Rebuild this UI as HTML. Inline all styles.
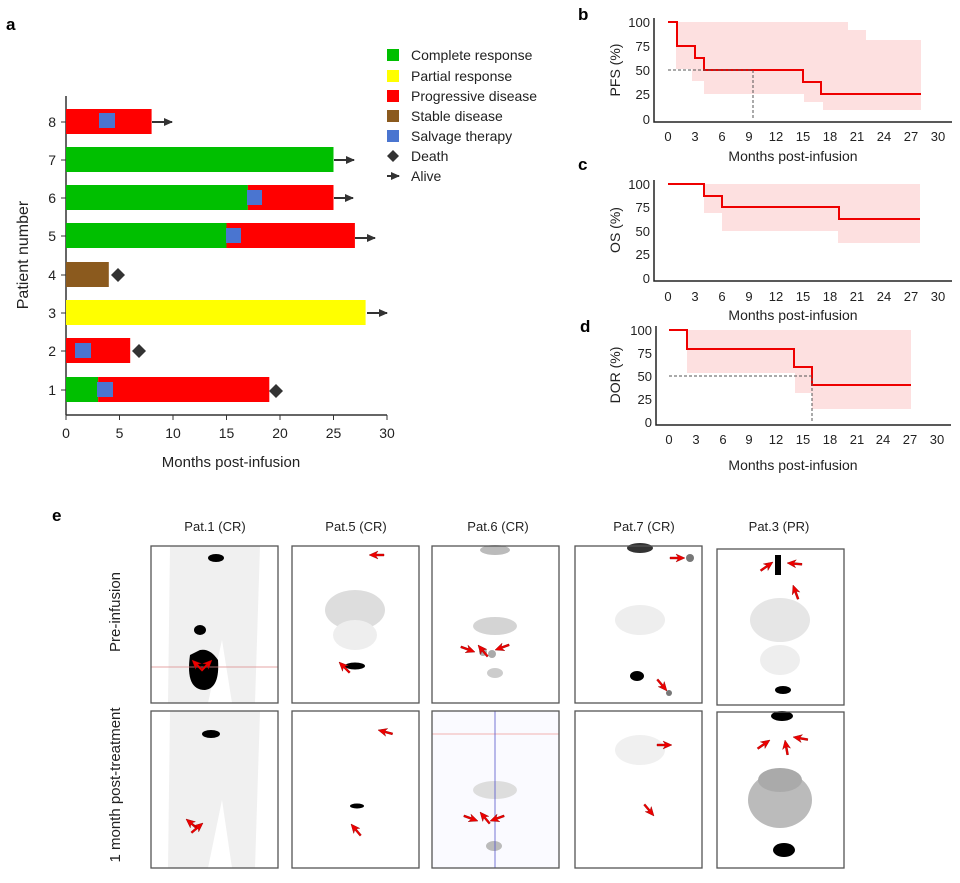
<!DOCTYPE html>
<html><head><meta charset="utf-8"><style>
body{margin:0;background:#fff}
svg{display:block;font-family:"Liberation Sans",Arial,sans-serif}
</style></head><body>
<svg width="960" height="883" viewBox="0 0 960 883" xmlns="http://www.w3.org/2000/svg">
<defs>
<marker id="ar" markerUnits="userSpaceOnUse" markerWidth="9" markerHeight="8" refX="8" refY="4" orient="auto"><path d="M0,0 L9,4 L0,8 z" fill="#333"/></marker>
<g id="rarrow"><path d="M0,0 L-9,-4 L-7,-1 L-15,-1 L-15,1 L-7,1 L-9,4 z" fill="#e00" stroke="#900" stroke-width="0.4"/></g>
</defs>
<!-- Panel a -->
<text x="6" y="30" font-size="17" font-weight="bold">a</text>
<g stroke="#333" stroke-width="1.5" fill="none">
<line x1="66" y1="96" x2="66" y2="415"/><line x1="66" y1="415" x2="387" y2="415"/>
</g>
<g stroke="#333" stroke-width="1">
<line x1="66" y1="415" x2="66" y2="420"/><line x1="119.5" y1="415" x2="119.5" y2="420"/><line x1="173" y1="415" x2="173" y2="420"/><line x1="226.5" y1="415" x2="226.5" y2="420"/><line x1="280" y1="415" x2="280" y2="420"/><line x1="333.5" y1="415" x2="333.5" y2="420"/><line x1="387" y1="415" x2="387" y2="420"/>
<line x1="61" y1="122" x2="66" y2="122"/><line x1="61" y1="160" x2="66" y2="160"/><line x1="61" y1="198" x2="66" y2="198"/><line x1="61" y1="236" x2="66" y2="236"/><line x1="61" y1="275" x2="66" y2="275"/><line x1="61" y1="313" x2="66" y2="313"/><line x1="61" y1="351" x2="66" y2="351"/><line x1="61" y1="390" x2="66" y2="390"/>
</g>
<g font-size="14" text-anchor="middle" fill="#222">
<text x="66" y="438">0</text><text x="119.5" y="438">5</text><text x="173" y="438">10</text><text x="226.5" y="438">15</text><text x="280" y="438">20</text><text x="333.5" y="438">25</text><text x="387" y="438">30</text>
</g>
<g font-size="14" text-anchor="end" fill="#222">
<text x="56" y="127">8</text><text x="56" y="165">7</text><text x="56" y="203">6</text><text x="56" y="241">5</text><text x="56" y="280">4</text><text x="56" y="318">3</text><text x="56" y="356">2</text><text x="56" y="395">1</text>
</g>
<text x="231" y="467" font-size="15" text-anchor="middle" fill="#222">Months post-infusion</text>
<text transform="translate(28,255) rotate(-90)" font-size="16" text-anchor="middle" fill="#222">Patient number</text>
<!-- bars -->
<rect x="66" y="109" width="85.6" height="25" fill="#f00"/><rect x="99" y="113" width="16" height="15" fill="#4a75d0"/>
<rect x="66" y="147" width="267.5" height="25" fill="#00bf00"/>
<rect x="66" y="185" width="181.9" height="25" fill="#00bf00"/><rect x="247.9" y="185" width="85.6" height="25" fill="#f00"/><rect x="247" y="190" width="15" height="15" fill="#4a75d0"/>
<rect x="66" y="223" width="160.5" height="25" fill="#00bf00"/><rect x="226.5" y="223" width="128.4" height="25" fill="#f00"/><rect x="226" y="228" width="15" height="15" fill="#4a75d0"/>
<rect x="66" y="262" width="42.8" height="25" fill="#8b5a1e"/>
<rect x="66" y="300" width="299.6" height="25" fill="#ff0"/>
<rect x="66" y="338" width="64.2" height="25" fill="#f00"/><rect x="75" y="343" width="16" height="15" fill="#4a75d0"/>
<rect x="66" y="377" width="32.1" height="25" fill="#00bf00"/><rect x="98.1" y="377" width="171.2" height="25" fill="#f00"/><rect x="97" y="382" width="16" height="15" fill="#4a75d0"/>
<!-- arrows & deaths -->
<g stroke="#333" stroke-width="2" marker-end="url(#ar)">
<line x1="152" y1="122" x2="172" y2="122"/><line x1="334" y1="160" x2="354" y2="160"/><line x1="334" y1="198" x2="353" y2="198"/><line x1="355" y1="238" x2="375" y2="238"/><line x1="367" y1="313" x2="387" y2="313"/>
</g>
<g fill="#333">
<path d="M118,268 l7,7 l-7,7 l-7,-7z"/><path d="M139,344 l7,7 l-7,7 l-7,-7z"/><path d="M276,384 l7,7 l-7,7 l-7,-7z"/>
</g>
<!-- legend -->
<g font-size="14" fill="#222">
<rect x="387" y="49" width="12" height="12" fill="#00bf00"/><text x="411" y="60">Complete response</text>
<rect x="387" y="70" width="12" height="12" fill="#ff0"/><text x="411" y="81">Partial response</text>
<rect x="387" y="90" width="12" height="12" fill="#f00"/><text x="411" y="101">Progressive disease</text>
<rect x="387" y="110" width="12" height="12" fill="#8b5a1e"/><text x="411" y="121">Stable disease</text>
<rect x="387" y="130" width="12" height="12" fill="#4a75d0"/><text x="411" y="141">Salvage therapy</text>
<path d="M393,150 l6,6 l-6,6 l-6,-6z" fill="#333"/><text x="411" y="161">Death</text>
<line x1="387" y1="176" x2="399" y2="176" stroke="#333" stroke-width="2" marker-end="url(#ar)"/><text x="411" y="181">Alive</text>
</g>
<!-- KM panels -->
<g font-size="17" font-weight="bold"><text x="578" y="20">b</text><text x="578" y="170">c</text><text x="580" y="332">d</text></g>
<g>
<path d="M676,22 H848 V30 H866 V40 H921 V110 H823 V102 H804 V94 H704 V81 H692 V69 H676 Z" fill="#fde0e0"/>
<polyline points="668,22 677,22 677,46 695,46 695,58 704,58 704,70 803,70 803,82 821,82 821,94 921,94" fill="none" stroke="#e00" stroke-width="2"/>
<path d="M668,70 H753 V119" fill="none" stroke="#555" stroke-width="1" stroke-dasharray="3,2"/>
<path d="M654,18 V122 H952" fill="none" stroke="#222" stroke-width="1.5"/>
<g font-size="13" text-anchor="end" fill="#222"><text x="650" y="27">100</text><text x="650" y="51">75</text><text x="650" y="75">50</text><text x="650" y="99">25</text><text x="650" y="124">0</text></g>
<g font-size="13" text-anchor="middle" fill="#222"><text x="668" y="141">0</text><text x="695" y="141">3</text><text x="722" y="141">6</text><text x="749" y="141">9</text><text x="776" y="141">12</text><text x="803" y="141">15</text><text x="830" y="141">18</text><text x="857" y="141">21</text><text x="884" y="141">24</text><text x="911" y="141">27</text><text x="938" y="141">30</text></g>
<text x="793" y="161" font-size="14" text-anchor="middle" fill="#222">Months post-infusion</text>
<text transform="translate(620,70) rotate(-90)" font-size="14" text-anchor="middle" fill="#222">PFS (%)</text>
</g>
<g>
<path d="M704,184 H920 V243 H838 V231 H722 V213 H704 Z" fill="#fde0e0"/>
<polyline points="668,184 704,184 704,196 722,196 722,207 839,207 839,219 920,219" fill="none" stroke="#e00" stroke-width="2"/>
<path d="M654,180 V281 H952" fill="none" stroke="#222" stroke-width="1.5"/>
<g font-size="13" text-anchor="end" fill="#222"><text x="650" y="189">100</text><text x="650" y="212">75</text><text x="650" y="236">50</text><text x="650" y="259">25</text><text x="650" y="283">0</text></g>
<g font-size="13" text-anchor="middle" fill="#222"><text x="668" y="301">0</text><text x="695" y="301">3</text><text x="722" y="301">6</text><text x="749" y="301">9</text><text x="776" y="301">12</text><text x="803" y="301">15</text><text x="830" y="301">18</text><text x="857" y="301">21</text><text x="884" y="301">24</text><text x="911" y="301">27</text><text x="938" y="301">30</text></g>
<text x="793" y="320" font-size="14" text-anchor="middle" fill="#222">Months post-infusion</text>
<text transform="translate(620,230) rotate(-90)" font-size="14" text-anchor="middle" fill="#222">OS (%)</text>
</g>
<g>
<path d="M687,330 H911 V409 H812 V393 H795 V373 H687 Z" fill="#fde0e0"/>
<polyline points="669,330 687,330 687,349 794,349 794,367 812,367 812,385 911,385" fill="none" stroke="#e00" stroke-width="2"/>
<path d="M669,376 H812 V423" fill="none" stroke="#555" stroke-width="1" stroke-dasharray="3,2"/>
<path d="M656,326 V425 H951" fill="none" stroke="#222" stroke-width="1.5"/>
<g font-size="13" text-anchor="end" fill="#222"><text x="652" y="335">100</text><text x="652" y="358">75</text><text x="652" y="381">50</text><text x="652" y="404">25</text><text x="652" y="427">0</text></g>
<g font-size="13" text-anchor="middle" fill="#222"><text x="669" y="444">0</text><text x="696" y="444">3</text><text x="723" y="444">6</text><text x="749" y="444">9</text><text x="776" y="444">12</text><text x="803" y="444">15</text><text x="830" y="444">18</text><text x="857" y="444">21</text><text x="883" y="444">24</text><text x="910" y="444">27</text><text x="937" y="444">30</text></g>
<text x="793" y="470" font-size="14" text-anchor="middle" fill="#222">Months post-infusion</text>
<text transform="translate(620,375) rotate(-90)" font-size="14" text-anchor="middle" fill="#222">DOR (%)</text>
</g>
<!-- Panel e -->
<text x="52" y="521" font-size="17" font-weight="bold">e</text>
<g font-size="13" text-anchor="middle" fill="#222">
<text x="215" y="531">Pat.1 (CR)</text><text x="356" y="531">Pat.5 (CR)</text><text x="498" y="531">Pat.6 (CR)</text><text x="644" y="531">Pat.7 (CR)</text><text x="779" y="531">Pat.3 (PR)</text>
</g>
<text transform="translate(120,612) rotate(-90)" font-size="15" text-anchor="middle" fill="#222">Pre-infusion</text>
<text transform="translate(120,785) rotate(-90)" font-size="15" text-anchor="middle" fill="#222">1 month post-treatment</text>
<g>
<rect x="151" y="546" width="127" height="157" fill="#fff"/>
<path d="M170,546 H260 L255,703 H232 L222,640 L208,703 H168 Z" fill="#f0f0f0"/>
<ellipse cx="216" cy="558" rx="8" ry="4" fill="#000"/><ellipse cx="200" cy="630" rx="6" ry="5" fill="#000"/>
<path d="M190,655 Q185,690 205,690 Q220,688 218,660 Q210,648 200,650 Z" fill="#000"/>
<line x1="151" y1="667" x2="278" y2="667" stroke="#d88" stroke-width="0.7"/>
<use href="#rarrow" transform="translate(192,660) rotate(-135)"/><use href="#rarrow" transform="translate(212,660) rotate(-45)"/>
<rect x="151" y="546" width="127" height="157" fill="none" stroke="#555" stroke-width="1.3"/>
</g>
<g>
<rect x="292" y="546" width="127" height="157" fill="#fff"/>
<ellipse cx="355" cy="610" rx="30" ry="20" fill="#ddd"/><ellipse cx="355" cy="635" rx="22" ry="15" fill="#eee"/>
<ellipse cx="355" cy="666" rx="10" ry="3.5" fill="#000"/>
<use href="#rarrow" transform="translate(369,555) rotate(180)"/><use href="#rarrow" transform="translate(339,662) rotate(-135)"/>
<rect x="292" y="546" width="127" height="157" fill="none" stroke="#555" stroke-width="1.3"/>
</g>
<g>
<rect x="432" y="546" width="127" height="157" fill="#fff"/>
<ellipse cx="495" cy="550" rx="15" ry="5" fill="#bbb"/><ellipse cx="495" cy="626" rx="22" ry="9" fill="#d4d4d4"/><ellipse cx="495" cy="673" rx="8" ry="5" fill="#ccc"/>
<circle cx="483" cy="652" r="4" fill="#aaa"/><circle cx="492" cy="654" r="4" fill="#aaa"/>
<use href="#rarrow" transform="translate(475,652) rotate(20)"/><use href="#rarrow" transform="translate(495,650) rotate(160)"/><use href="#rarrow" transform="translate(478,645) rotate(-130)"/>
<rect x="432" y="546" width="127" height="157" fill="none" stroke="#555" stroke-width="1.3"/>
</g>
<g>
<rect x="575" y="546" width="127" height="157" fill="#fff"/>
<ellipse cx="640" cy="548" rx="13" ry="5" fill="#333"/><ellipse cx="640" cy="620" rx="25" ry="15" fill="#eee"/>
<ellipse cx="637" cy="676" rx="7" ry="5" fill="#000"/><circle cx="669" cy="693" r="3" fill="#777"/><circle cx="690" cy="558" r="4" fill="#777"/>
<use href="#rarrow" transform="translate(685,558)"/><use href="#rarrow" transform="translate(667,691) rotate(50)"/>
<rect x="575" y="546" width="127" height="157" fill="none" stroke="#555" stroke-width="1.3"/>
</g>
<g>
<rect x="717" y="549" width="127" height="156" fill="#fff"/>
<ellipse cx="780" cy="620" rx="30" ry="22" fill="#e6e6e6"/><ellipse cx="780" cy="660" rx="20" ry="15" fill="#eee"/>
<rect x="775" y="555" width="6" height="20" fill="#000"/><ellipse cx="783" cy="690" rx="8" ry="4" fill="#000"/>
<use href="#rarrow" transform="translate(773,562) rotate(-35)"/><use href="#rarrow" transform="translate(787,563) rotate(185)"/><use href="#rarrow" transform="translate(793,585) rotate(-110)"/>
<rect x="717" y="549" width="127" height="156" fill="none" stroke="#555" stroke-width="1.3"/>
</g>
<g>
<rect x="151" y="711" width="127" height="157" fill="#fff"/>
<path d="M170,711 H260 L255,868 H232 L222,800 L208,868 H168 Z" fill="#f0f0f0"/>
<ellipse cx="211" cy="734" rx="9" ry="4" fill="#000"/>
<use href="#rarrow" transform="translate(186,819) rotate(-140)"/><use href="#rarrow" transform="translate(203,823) rotate(-40)"/>
<rect x="151" y="711" width="127" height="157" fill="none" stroke="#555" stroke-width="1.3"/>
</g>
<g>
<rect x="292" y="711" width="127" height="157" fill="#fff"/>
<ellipse cx="357" cy="806" rx="7" ry="2.5" fill="#000"/>
<use href="#rarrow" transform="translate(378,730) rotate(195)"/><use href="#rarrow" transform="translate(351,824) rotate(-130)"/>
<rect x="292" y="711" width="127" height="157" fill="none" stroke="#555" stroke-width="1.3"/>
</g>
<g>
<rect x="432" y="711" width="127" height="157" fill="#fafaff"/>
<ellipse cx="495" cy="790" rx="22" ry="9" fill="#ddd"/><ellipse cx="494" cy="846" rx="8" ry="5" fill="#bbb"/>
<line x1="432" y1="734" x2="559" y2="734" stroke="#e99" stroke-width="0.7"/>
<line x1="495" y1="711" x2="495" y2="868" stroke="#55c" stroke-width="0.8"/>
<use href="#rarrow" transform="translate(478,821) rotate(20)"/><use href="#rarrow" transform="translate(490,821) rotate(160)"/><use href="#rarrow" transform="translate(480,812) rotate(-130)"/>
<rect x="432" y="711" width="127" height="157" fill="none" stroke="#555" stroke-width="1.3"/>
</g>
<g>
<rect x="575" y="711" width="127" height="157" fill="#fff"/>
<ellipse cx="640" cy="750" rx="25" ry="15" fill="#f0f0f0"/>
<use href="#rarrow" transform="translate(672,745)"/><use href="#rarrow" transform="translate(654,816) rotate(50)"/>
<rect x="575" y="711" width="127" height="157" fill="none" stroke="#555" stroke-width="1.3"/>
</g>
<g>
<rect x="717" y="712" width="127" height="156" fill="#fff"/>
<ellipse cx="780" cy="800" rx="32" ry="28" fill="#bbb"/><ellipse cx="780" cy="780" rx="22" ry="12" fill="#aaa"/>
<ellipse cx="782" cy="716" rx="11" ry="5" fill="#000"/><ellipse cx="784" cy="850" rx="11" ry="7" fill="#000"/>
<use href="#rarrow" transform="translate(770,740) rotate(-35)"/><use href="#rarrow" transform="translate(785,740) rotate(-100)"/><use href="#rarrow" transform="translate(793,737) rotate(190)"/>
<rect x="717" y="712" width="127" height="156" fill="none" stroke="#555" stroke-width="1.3"/>
</g>
</svg>
</body></html>
